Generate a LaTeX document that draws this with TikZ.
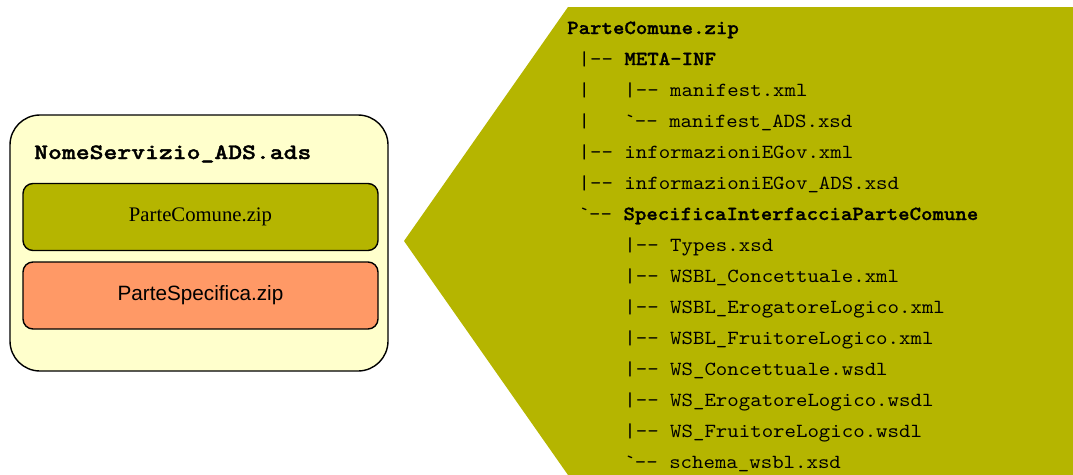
\documentclass[tikz,border=0pt]{standalone}
\usepackage{fontspec}
\newfontfamily\treemono{lmmono10-regular.otf}[BoldFont=lmmonolt10-bold.otf, BoldFeatures={FakeBold=1.2}, FakeStretch=1.09]
\newfontfamily\titlemono{lmmonolt10-bold.otf}[FakeStretch=1.2, FakeBold=1.6]
\newfontfamily\timesf{Liberation Serif}
\newfontfamily\arialf{Liberation Sans}
\definecolor{olivefill}{HTML}{B5B500}
\definecolor{paleyellow}{HTML}{FFFFCC}
\definecolor{peach}{HTML}{FF9966}
\tikzset{
  outerbox/.style={draw=black, line width=1.4pt, fill=paleyellow, rounded corners=30pt,
    minimum width=378pt, minimum height=256pt, inner sep=0pt},
  zipbox/.style={draw=black, line width=1.4pt, rounded corners=10pt,
    minimum width=355pt, minimum height=67pt, inner sep=0pt},
  treeline/.style={anchor=base west, inner sep=0pt, font=\treemono\fontsize{20}{22}\selectfont},
}
\begin{document}
\begin{tikzpicture}[x=1pt, y=-1pt]
\useasboundingbox (0,0) rectangle (1073,474);

% archive container on the left
\node[outerbox] (ads) at (199,243) {};
\node[anchor=base west, inner sep=0pt, font=\titlemono\fontsize{22}{26}\selectfont]
  (adsname) at (34,159) {NomeServizio\_ADS.ads};
\node[zipbox, fill=olivefill, font=\timesf\fontsize{20.7}{24}\selectfont] (comune) at (200.5,217) {ParteComune.zip};
\node[zipbox, fill=peach, font=\arialf\fontsize{20.7}{24}\selectfont] (specifica) at (200.5,295.5) {ParteSpecifica.zip};

% expanded content of ParteComune.zip
\fill[olivefill] (568,7) -- (1073,7) -- (1073,475) -- (568,475) -- (404,241) -- cycle;

\node[treeline] (t0)  at (567,34)  {\textbf{ParteComune.zip}};
\node[treeline] (t1)  at (567,65)  {\ |-{}- \textbf{META-INF}};
\node[treeline] (t2)  at (567,96)  {\ |\ \ \ |-{}- manifest.xml};
\node[treeline] (t3)  at (567,127) {\ |\ \ \ \textasciigrave-{}- manifest\_ADS.xsd};
\node[treeline] (t4)  at (567,158) {\ |-{}- informazioniEGov.xml};
\node[treeline] (t5)  at (567,189) {\ |-{}- informazioniEGov\_ADS.xsd};
\node[treeline] (t6)  at (567,220) {\ \textasciigrave-{}- \textbf{SpecificaInterfacciaParteComune}};
\node[treeline] (t7)  at (567,251) {\ \ \ \ \ |-{}- Types.xsd};
\node[treeline] (t8)  at (567,282) {\ \ \ \ \ |-{}- WSBL\_Concettuale.xml};
\node[treeline] (t9)  at (567,313) {\ \ \ \ \ |-{}- WSBL\_ErogatoreLogico.xml};
\node[treeline] (t10) at (567,344) {\ \ \ \ \ |-{}- WSBL\_FruitoreLogico.xml};
\node[treeline] (t11) at (567,375) {\ \ \ \ \ |-{}- WS\_Concettuale.wsdl};
\node[treeline] (t12) at (567,406) {\ \ \ \ \ |-{}- WS\_ErogatoreLogico.wsdl};
\node[treeline] (t13) at (567,437) {\ \ \ \ \ |-{}- WS\_FruitoreLogico.wsdl};
\node[treeline] (t14) at (567,468) {\ \ \ \ \ \textasciigrave-{}- schema\_wsbl.xsd};
\end{tikzpicture}
\end{document}
